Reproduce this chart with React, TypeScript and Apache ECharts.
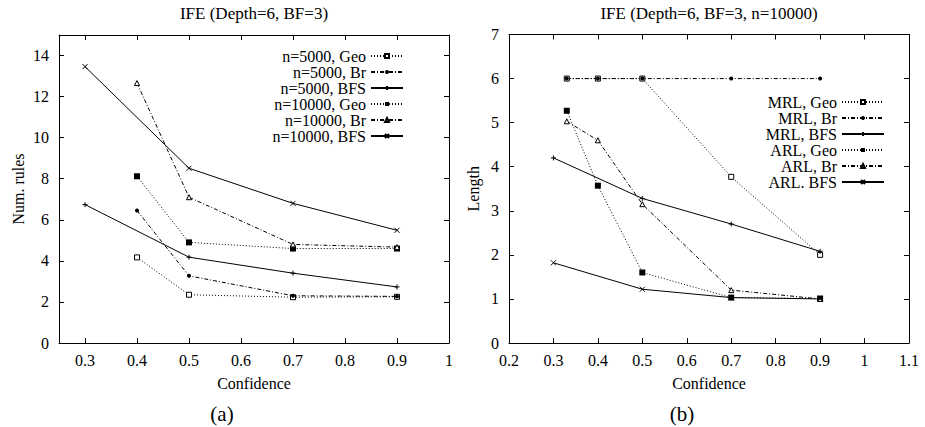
import React, { useEffect, useRef } from "react";
import * as echarts from "echarts";

// ---------- data ----------
const titleA = "IFE (Depth=6, BF=3)";
const titleB = "IFE (Depth=6, BF=3, n=10000)";
const xAxisName = "Confidence";
const yNameA = "Num. rules";
const yNameB = "Length";

const xTicksA = [0.3, 0.4, 0.5, 0.6, 0.7, 0.8, 0.9, 1];
const yTicksA = [0, 2, 4, 6, 8, 10, 12, 14];
const xTicksB = [0.2, 0.3, 0.4, 0.5, 0.6, 0.7, 0.8, 0.9, 1, 1.1];
const yTicksB = [0, 1, 2, 3, 4, 5, 6, 7];

// chart (a)
const namesA = [
  "n=5000, Geo",
  "n=5000, Br",
  "n=5000, BFS",
  "n=10000, Geo",
  "n=10000, Br",
  "n=10000, BFS",
];
const xGeoA = [0.4, 0.5, 0.7, 0.9];
const xBrA = [0.4, 0.5, 0.7, 0.9];
const xBfsA = [0.3, 0.5, 0.7, 0.9];
const n5000Geo = [4.17, 2.35, 2.23, 2.25];
const n5000Br = [6.45, 3.27, 2.3, 2.27];
const n5000Bfs = [6.74, 4.18, 3.4, 2.73];
const n10000Geo = [8.12, 4.9, 4.6, 4.6];
const n10000Br = [12.66, 7.1, 4.8, 4.67];
const n10000Bfs = [13.46, 8.51, 6.8, 5.49];

// chart (b)
const namesB = [
  "MRL, Geo",
  "MRL, Br",
  "MRL, BFS",
  "ARL, Geo",
  "ARL, Br",
  "ARL. BFS",
];
const xGeoB = [0.33, 0.4, 0.5, 0.7, 0.9];
const xBrB = [0.33, 0.4, 0.5, 0.7, 0.9];
const xBfsB = [0.3, 0.5, 0.7, 0.9];
const mrlGeo = [6, 6, 6, 3.77, 2.0];
const mrlBr = [6, 6, 6, 6, 6];
const mrlBfs = [4.2, 3.28, 2.7, 2.08];
const arlGeo = [5.27, 3.57, 1.6, 1.03, 1.01];
const arlBr = [5.03, 4.6, 3.15, 1.2, 1.0];
const arlBfs = [1.82, 1.22, 1.03, 1.0];

// ---------- styles ----------
const FONT = "Liberation Serif";
const FS = 16;
const TITLE_FS = 17;
const LEGEND_FS = 16;
const TICK_FS = 16;
const INK = "#000";

type Kind = "geoOpen" | "brDot" | "bfsPlus" | "geoFill" | "brTri" | "bfsX";

const DOT = [1, 2];
const DASHDOT = [4, 2, 1, 2];

const styleFor = (kind: Kind) => {
  switch (kind) {
    case "geoOpen":
      return {
        symbol: "rect",
        symbolSize: 5,
        lineStyle: { color: "#000", width: 1, type: DOT },
        itemStyle: { color: "#fff", borderColor: INK, borderWidth: 1 },
      };
    case "geoFill":
      return {
        symbol: "rect",
        symbolSize: 6,
        lineStyle: { color: "#000", width: 1, type: DOT },
        itemStyle: { color: INK, borderColor: INK, borderWidth: 0 },
      };
    case "brDot":
      return {
        symbol: "circle",
        symbolSize: 4,
        lineStyle: { color: "#000", width: 1, type: DASHDOT },
        itemStyle: { color: INK, borderColor: INK, borderWidth: 0 },
      };
    case "brTri":
      return {
        symbol: "triangle",
        symbolSize: 5,
        lineStyle: { color: "#000", width: 1, type: DASHDOT },
        itemStyle: { color: "#fff", borderColor: INK, borderWidth: 1 },
      };
    case "bfsPlus":
      return {
        symbol: "path://M5,0L5,10M0,5L10,5",
        symbolSize: 5,
        lineStyle: { color: INK, width: 1, type: "solid" },
        itemStyle: { color: INK, borderColor: INK, borderWidth: 1 },
      };
    case "bfsX":
    default:
      return {
        symbol: "path://M0,0L10,10M0,10L10,0",
        symbolSize: 5,
        lineStyle: { color: INK, width: 1, type: "solid" },
        itemStyle: { color: INK, borderColor: INK, borderWidth: 1 },
      };
  }
};

const mkSeries = (
  name: string,
  xs: number[],
  ys: number[],
  kind: Kind,
  idx: number
) => ({
  type: "line",
  name,
  xAxisIndex: idx * 2,
  yAxisIndex: idx * 2,
  data: xs.map((x, i) => [x, ys[i]]),
  showSymbol: true,
  ...styleFor(kind),
});

const txt = { color: INK, fontFamily: FONT, fontSize: FS };
const tickTxt = { color: INK, fontFamily: FONT, fontSize: TICK_FS };

const mkX = (grid: number, min: number, max: number, ticks: number[], bottom: boolean) => ({
  type: "value",
  gridIndex: grid,
  position: bottom ? "bottom" : "top",
  min,
  max,
  axisLine: { show: true, onZero: false, lineStyle: { color: INK, width: 1 } },
  axisTick: { show: true, inside: true, length: 5, customValues: ticks, lineStyle: { color: INK, width: 1 } },
  axisLabel: bottom
    ? { show: true, customValues: ticks, margin: 9, ...tickTxt }
    : { show: false },
  splitLine: { show: false },
  name: bottom ? xAxisName : "",
  nameLocation: "middle",
  nameGap: 32,
  nameTextStyle: txt,
});

const mkY = (grid: number, min: number, max: number, ticks: number[], left: boolean, name: string, gap: number) => ({
  type: "value",
  gridIndex: grid,
  position: left ? "left" : "right",
  min,
  max,
  axisLine: { show: true, onZero: false, lineStyle: { color: INK, width: 1 } },
  axisTick: { show: true, inside: true, length: 5, customValues: ticks, lineStyle: { color: INK, width: 1 } },
  axisLabel: left ? { show: true, customValues: ticks, margin: 10, ...tickTxt } : { show: false },
  splitLine: { show: false },
  name: left ? name : "",
  nameLocation: "middle",
  nameGap: gap,
  nameTextStyle: txt,
});

const gText = (text: string, x: number, y: number, size: number) => ({
  type: "text",
  x,
  y,
  style: {
    text,
    fill: INK,
    fontFamily: FONT,
    fontSize: size,
    align: "center",
    verticalAlign: "middle",
  },
});

export default function App() {
  const ref = useRef<HTMLDivElement>(null);
  useEffect(() => {
    document.body.style.margin = "0";
    if (!ref.current) return;
    const chart = echarts.init(ref.current, undefined, { renderer: "svg" });
    const option: any = {
      animation: false,
      backgroundColor: "#fff",
      textStyle: { fontFamily: FONT, fontSize: FS, color: INK },
      grid: [
        { left: 59, right: 476, top: 35, bottom: 84, show: false },
        { left: 509, right: 16, top: 34.5, bottom: 84, show: false },
      ],
      xAxis: [
        mkX(0, 0.25, 1, xTicksA, true),
        mkX(0, 0.25, 1, xTicksA, false),
        mkX(1, 0.2, 1.1, xTicksB, true),
        mkX(1, 0.2, 1.1, xTicksB, false),
      ],
      yAxis: [
        mkY(0, 0, 15, yTicksA, true, yNameA, 33),
        mkY(0, 0, 15, yTicksA, false, "", 0),
        mkY(1, 0, 7, yTicksB, true, yNameB, 28),
        mkY(1, 0, 7, yTicksB, false, "", 0),
      ],
      legend: [
        {
          data: namesA,
          orient: "vertical",
          align: "right",
          right: 925 - 404,
          top: 48,
          padding: 0,
          itemWidth: 32,
          itemHeight: 5,
          itemGap: 0,
          selectedMode: false,
          textStyle: { color: INK, fontFamily: FONT, fontSize: LEGEND_FS, lineHeight: 16 },
        },
        {
          data: namesB,
          orient: "vertical",
          align: "right",
          right: 925 - 885,
          top: 94,
          padding: 0,
          itemWidth: 42,
          itemHeight: 5,
          itemGap: 0,
          selectedMode: false,
          textStyle: { color: INK, fontFamily: FONT, fontSize: LEGEND_FS, lineHeight: 16 },
        },
      ],
      series: [
        mkSeries(namesA[0], xGeoA, n5000Geo, "geoOpen", 0),
        mkSeries(namesA[1], xBrA, n5000Br, "brDot", 0),
        mkSeries(namesA[2], xBfsA, n5000Bfs, "bfsPlus", 0),
        mkSeries(namesA[3], xGeoA, n10000Geo, "geoFill", 0),
        mkSeries(namesA[4], xBrA, n10000Br, "brTri", 0),
        mkSeries(namesA[5], xBfsA, n10000Bfs, "bfsX", 0),
        mkSeries(namesB[0], xGeoB, mrlGeo, "geoOpen", 1),
        mkSeries(namesB[1], xBrB, mrlBr, "brDot", 1),
        mkSeries(namesB[2], xBfsB, mrlBfs, "bfsPlus", 1),
        mkSeries(namesB[3], xGeoB, arlGeo, "geoFill", 1),
        mkSeries(namesB[4], xBrB, arlBr, "brTri", 1),
        mkSeries(namesB[5], xBfsB, arlBfs, "bfsX", 1),
      ],
      graphic: [
        gText(titleA, 254, 13, TITLE_FS),
        gText(titleB, 709, 13, TITLE_FS),
        gText("(a)", 222, 414, 21),
        gText("(b)", 682, 414, 21),
      ],
    };
    chart.setOption(option);
    return () => chart.dispose();
  }, []);
  return (
    <div
      ref={ref}
      style={{ position: "absolute", left: 0, top: 0, width: 925, height: 427 }}
    />
  );
}
